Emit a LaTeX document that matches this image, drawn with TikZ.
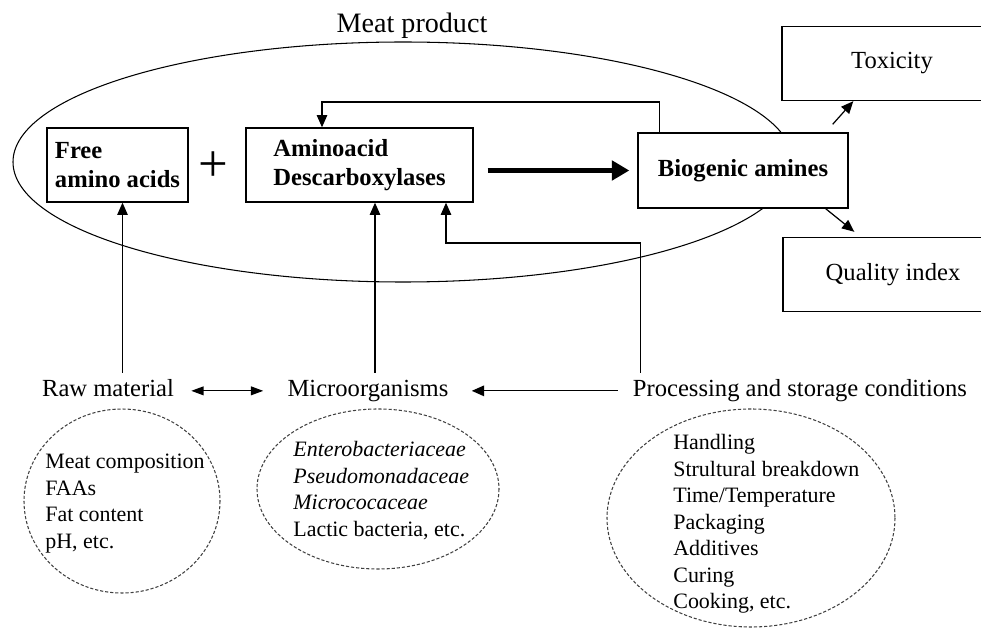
\documentclass[tikz,border=0pt]{standalone}
\usepackage{fontspec}
\setmainfont{Liberation Serif}
\usetikzlibrary{positioning,arrows.meta}

\begin{document}
\begin{tikzpicture}[x=0.02cm,y=-0.02cm,
  blk/.style={draw,line width=0.8pt,fill=white,align=left,
    font=\fontsize{14}{16.5}\selectfont\bfseries},
  outbox/.style={draw,line width=0.8pt,fill=white,minimum width=4.4cm,
    minimum height=1.48cm,font=\fontsize{14}{16.5}\selectfont},
  lbl/.style={font=\fontsize{14}{16.5}\selectfont,text height=9.5pt,
    text depth=2.5pt,inner sep=4pt},
  lst/.style={font=\fontsize{12.5}{15.1}\selectfont,align=left,
    inner sep=0pt,anchor=north west},
  arr/.style={line width=0.7pt,-{Triangle[length=7pt,width=6pt]}},
  dblarr/.style={line width=0.7pt,
    {Triangle[length=7pt,width=5pt]}-{Triangle[length=7pt,width=5pt]}},
  bigarr/.style={line width=2.8pt,-{Triangle[length=10pt,width=11pt]}},
  ring/.style={line width=0.6pt,dash pattern=on 1.8pt off 1.1pt,black!75}]

  \useasboundingbox (0,0) rectangle (981,628);
  \clip (0,0) rectangle (981,628);

  % meat product (big ellipse behind the boxes)
  \draw[line width=0.6pt] (403,162) ellipse [x radius=390, y radius=120];
  \node[font=\fontsize{16}{18}\selectfont,anchor=base] (meat) at (412,33) {Meat product};

  % reaction inside the product
  \node[blk,minimum width=2.82cm,minimum height=1.48cm] (faa) at (117.5,165) {Free\\amino acids};
  \node[font=\fontsize{30}{30}\selectfont,inner sep=0pt] (plus) at (213,167) {+};
  \node[blk,minimum width=4.54cm,minimum height=1.48cm] (dec) at (359.5,165) {Aminoacid\\Descarboxylases};
  \node[blk,minimum width=4.2cm,minimum height=1.5cm] (ba) at (743,170.5) {Biogenic amines};

  % effects (cut at the right edge)
  \node[outbox] (tox) at (892,63.5) {Toxicity};
  \node[outbox] (qi) at (893,274.5) {Quality index};

  % factors
  \node[lbl,anchor=base] (raw) at (108,397) {Raw material};
  \node[lbl,anchor=base] (mic) at (368,397) {Microorganisms};
  \node[lbl,anchor=base] (proc) at (800,397) {Processing and storage conditions};

  % factor details
  \node[lst] (rawlist) at (45,454) {Meat composition\\FAAs\\Fat content\\pH, etc.};
  \node[lst] (miclist) at (293,441) {\textit{Enterobacteriaceae}\\\textit{Pseudomonadaceae}\\\textit{Micrococaceae}\\Lactic bacteria, etc.};
  \node[lst] (proclist) at (673,434) {Handling\\Strultural breakdown\\Time/Temperature\\Packaging\\Additives\\Curing\\Cooking, etc.};
  \foreach \cx/\cy/\rx/\ry in {122/501/98/92,378/489/121/80,751/518/144/109}
    \draw[ring] (\cx,\cy) ellipse [x radius=\rx, y radius=\ry];

  % connectors
  \draw[bigarr,shorten <=0.28cm,shorten >=0.16cm] (dec.east |- ba.west) -- (ba.west);
  \coordinate (fbtop) at (322,102);
  \draw[arr] ([xshift=0.44cm]ba.north west) |- (fbtop) -- (fbtop |- dec.north);
  \coordinate (pturn) at (446,243);
  \draw[arr] ([xshift=0.3cm]proc.north west) |- (pturn) -- (pturn |- dec.south);
  \draw[arr] ([xshift=0.1cm]faa.south |- raw.north) -- ([xshift=0.1cm]faa.south);
  \draw[arr] ([xshift=0.14cm]mic.north) -- ([xshift=0.14cm]mic.north |- dec.south);
  \draw[arr] ([xshift=-0.32cm,yshift=0.16cm]ba.north east) -- ([xshift=1.44cm]tox.south west);
  \draw[arr] ([xshift=-0.46cm]ba.south east) -- ([xshift=1.44cm,yshift=0.1cm]qi.north west);
  \draw[dblarr,shorten <=0.2cm,shorten >=0.34cm] (raw.east) -- (mic.west);
  \draw[arr,shorten <=0.16cm,shorten >=0.32cm] (proc.west) -- (mic.east);
\end{tikzpicture}
\end{document}
